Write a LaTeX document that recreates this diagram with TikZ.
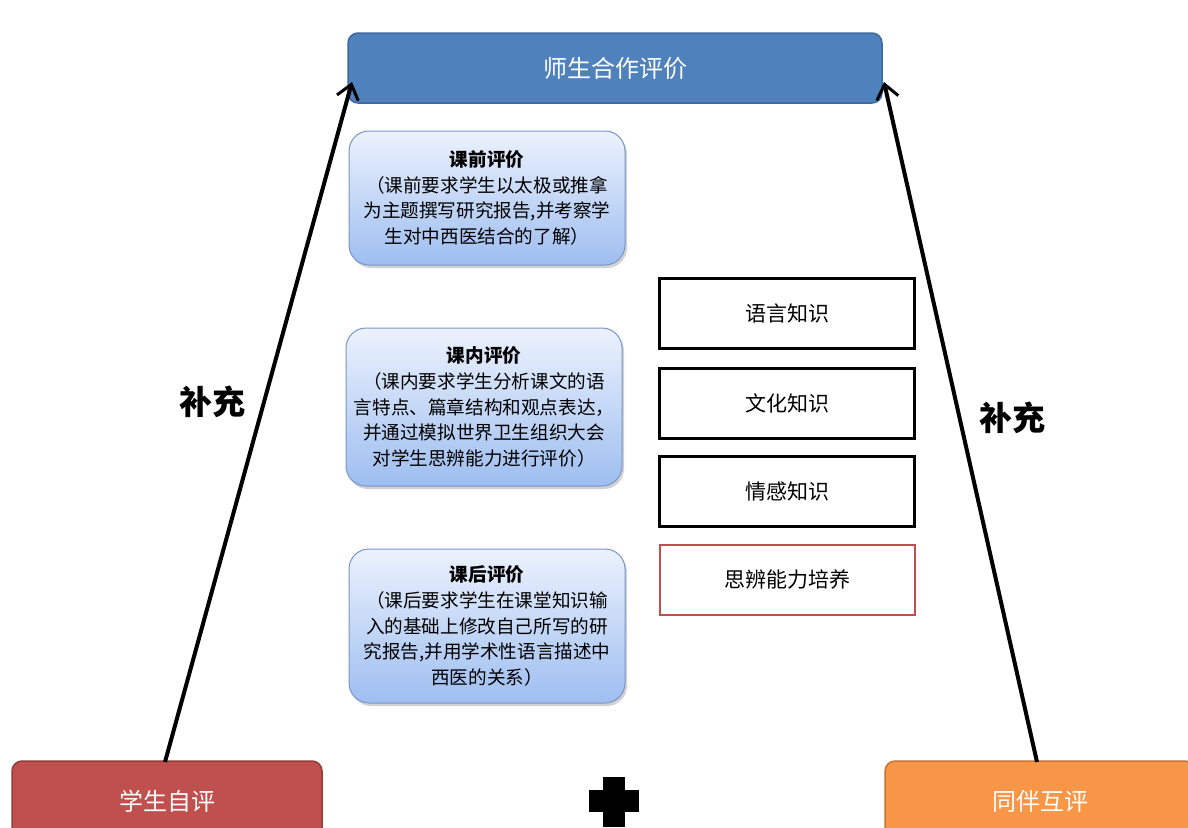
\documentclass[tikz,border=0pt]{standalone}
\usepackage{fontspec}
\newfontfamily\cjk{Noto Sans CJK SC}
\usepackage{tikz}
\usetikzlibrary{arrows.meta,shadows}
\definecolor{topblue}{RGB}{79,129,189}
\definecolor{topedge}{RGB}{60,105,160}
\definecolor{selfred}{RGB}{192,80,77}
\definecolor{selfedge}{RGB}{150,60,58}
\definecolor{peerorange}{RGB}{247,150,70}
\definecolor{peeredge}{RGB}{200,115,50}
\definecolor{evaledge}{RGB}{120,150,200}
\definecolor{evaltop}{RGB}{236,242,253}
\definecolor{evalbot}{RGB}{158,190,240}
\tikzstyle{every node}=[inner sep=0pt]
\tikzstyle{headbox}=[rounded corners=10pt, draw=topedge, line width=1.5pt, fill=topblue, text=white,
  font=\cjk\fontsize{24}{28}\selectfont, minimum width=534pt, minimum height=70pt]
\tikzstyle{evalbox}=[rounded corners=20pt, draw=evaledge, line width=1pt, top color=evaltop, bottom color=evalbot,
  align=center, font=\cjk\fontsize{18.6}{25.8}\selectfont, minimum width=276pt,
  drop shadow={shadow xshift=2pt, shadow yshift=-3pt, opacity=0.35}]
\tikzstyle{know}=[draw=black, line width=2.5pt, minimum width=255pt, minimum height=70pt,
  font=\cjk\fontsize{21}{24}\selectfont]
\tikzstyle{footbox}=[rounded corners=10pt, line width=1.5pt, text=white,
  font=\cjk\fontsize{24}{28}\selectfont, minimum width=310pt, minimum height=80pt]
\tikzstyle{arr}=[line width=4pt, -{Straight Barb[length=14pt,width=22pt,line width=3pt]}]
\tikzstyle{side}=[font=\cjk\bfseries\fontsize{33}{36}\selectfont]

\begin{document}
\begin{tikzpicture}[x=1pt,y=-1pt]
 \clip (0,0) rectangle (1188,827);
 \fill[white] (0,0) rectangle (1188,827);
 % top
 \node[headbox] (coop) at (615,68) {师生合作评价};
 % three stages
 \node[evalbox, minimum height=134pt] (pre) at (487,198)
  {{\bfseries 课前评价}\\（课前要求学生以太极或推拿\\为主题撰写研究报告,并考察学\\生对中西医结合的了解）};
 \node[evalbox, minimum height=158pt] (in) at (484,407)
  {{\bfseries 课内评价}\\（课内要求学生分析课文的语\\言特点、篇章结构和观点表达，\\并通过模拟世界卫生组织大会\\对学生思辨能力进行评价）};
 \node[evalbox, minimum height=154pt] (post) at (487,626)
  {{\bfseries 课后评价}\\（课后要求学生在课堂知识输\\入的基础上修改自己所写的研\\究报告,并用学术性语言描述中\\西医的关系）};
 % knowledge
 \node[know] (lang) at (787,313.5) {语言知识};
 \node[know] (cult) at (787,403.5) {文化知识};
 \node[know] (emo) at (787,491.5) {情感知识};
 \node[know, draw=selfred, line width=2pt] (think) at (787,579.5) {思辨能力培养};
 % bottom
 \node[footbox, draw=selfedge, fill=selfred] (self) at (167,801) {学生自评};
 \node[footbox, draw=peeredge, fill=peerorange] (peer) at (1040,801) {同伴互评};
 \fill (603,777) rectangle (625,827);
 \fill (589,790) rectangle (639,812);
 % arrows
 \coordinate (s1) at (165,762);
 \coordinate (e1) at (352,82);
 \coordinate (s2) at (1037,762);
 \coordinate (e2) at (884,82);
 \draw[arr] (s1) -- (e1);
 \draw[arr] (s2) -- (e2);
 \node[side] (addl) at (212,402) {补充};
 \node[side] (addr) at (1012,418) {补充};
\end{tikzpicture}
\end{document}
